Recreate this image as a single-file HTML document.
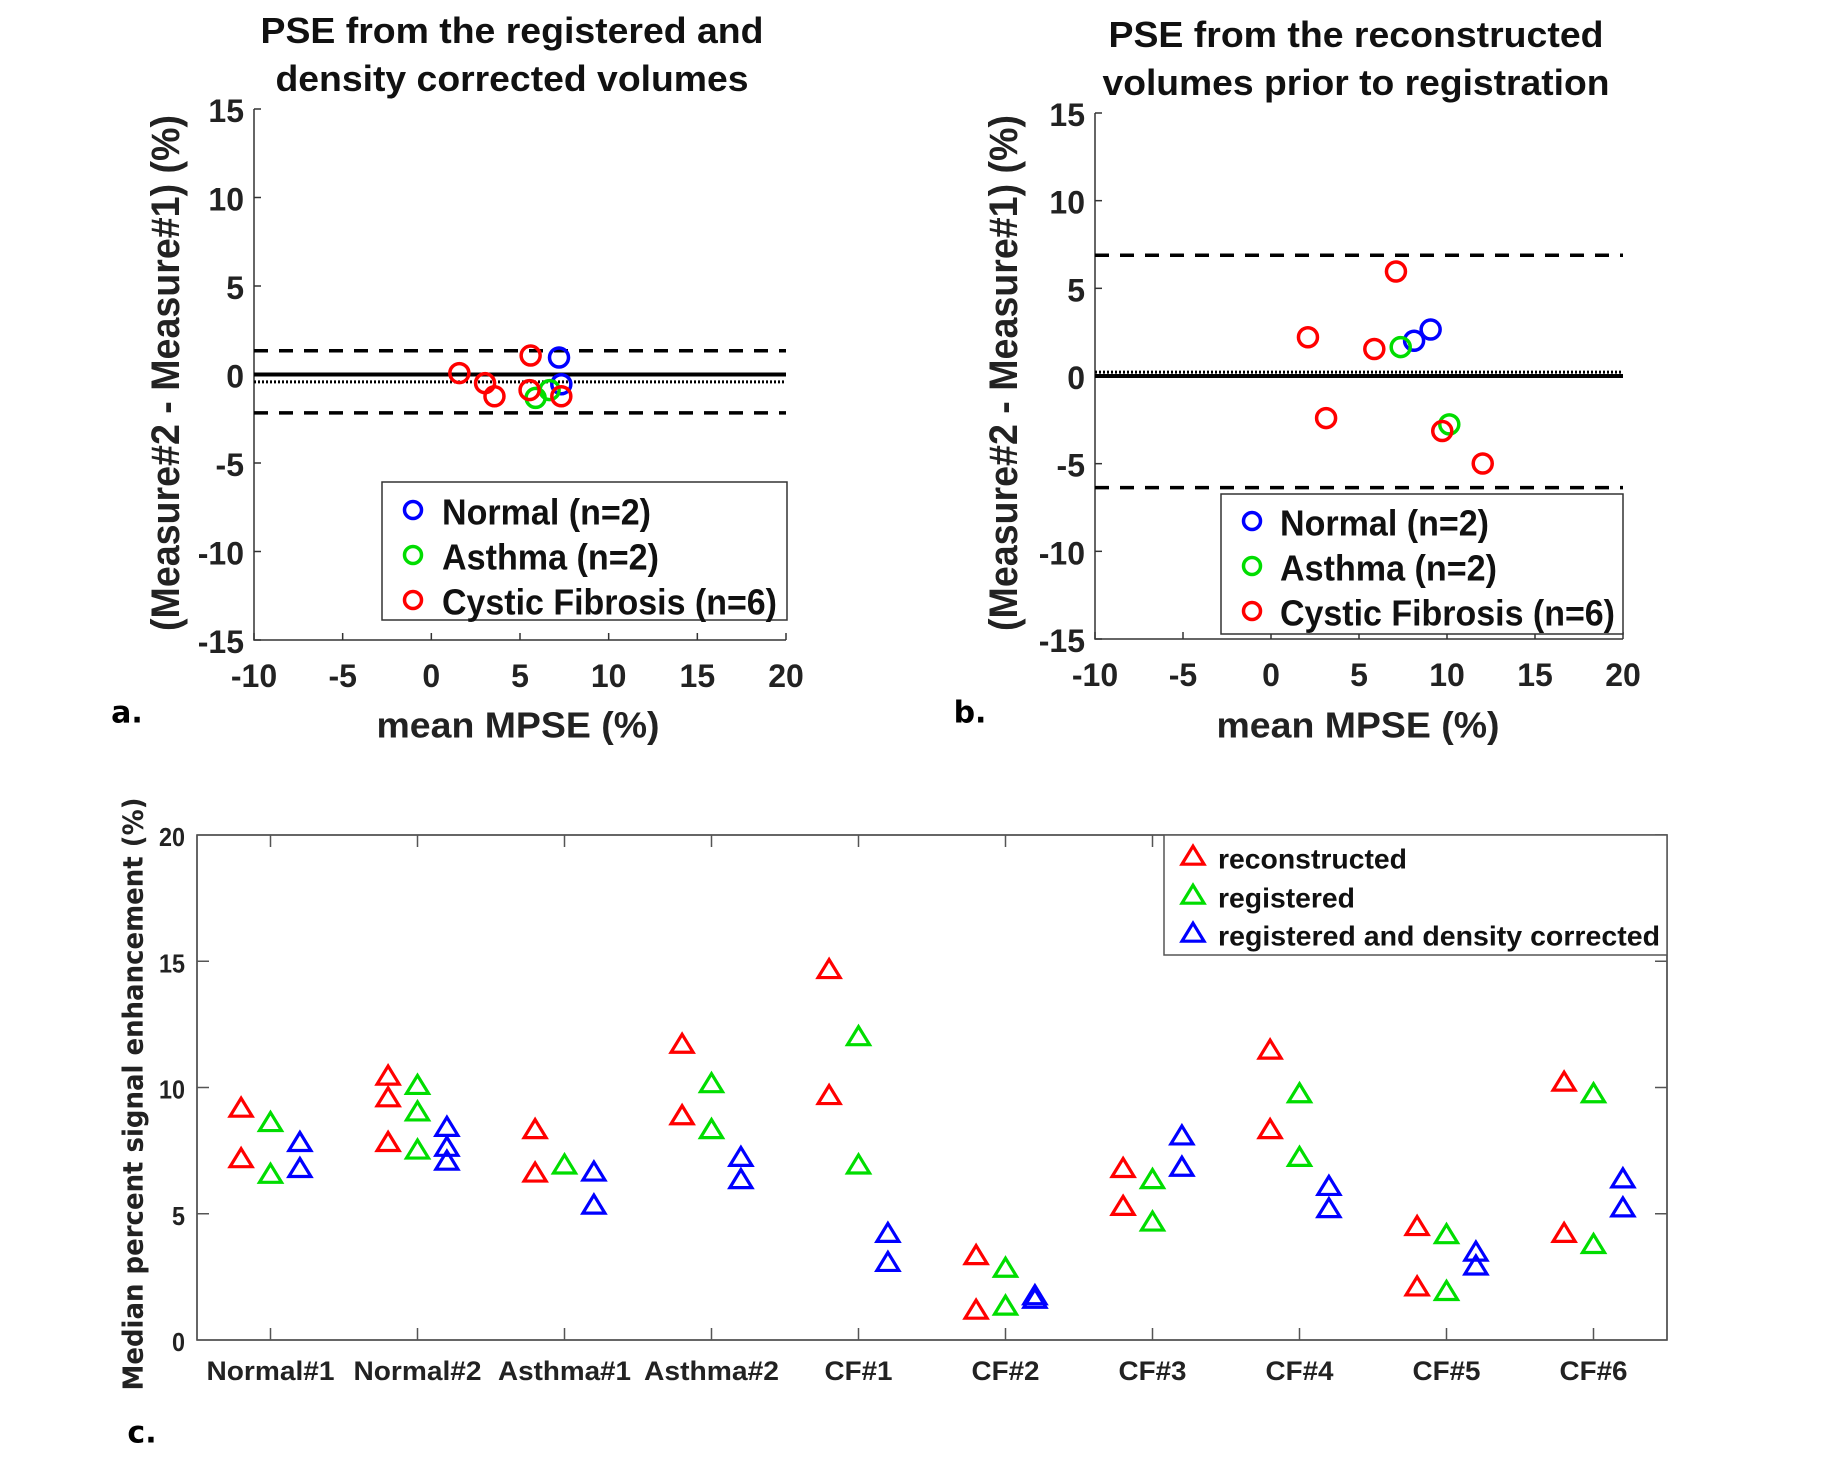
<!DOCTYPE html>
<html><head><meta charset="utf-8"><style>
html,body{margin:0;padding:0;background:#fff;}
svg{display:block;font-family:"Liberation Sans",Arial,sans-serif;font-weight:bold;}
</style></head><body>
<svg id="fig" xmlns="http://www.w3.org/2000/svg" width="1840" height="1480" viewBox="0 0 1840 1480"></svg>
<script>
// ---------- Panel a data ----------
const aNormalX=[7.2,7.33], aNormalY=[0.96,-0.55];
const aAsthmaX=[5.88,6.67], aAsthmaY=[-1.32,-0.88];
const aCFX=[1.58,3.03,3.56,5.6,5.54,7.33], aCFY=[0.08,-0.49,-1.23,1.07,-0.88,-1.23];
const aLimits=[1.34,-2.17], aMeanDiff=-0.42;
// ---------- Panel b data ----------
const bNormalX=[8.13,9.07], bNormalY=[2.01,2.65];
const bAsthmaX=[7.37,10.13], bAsthmaY=[1.65,-2.76];
const bCFX=[2.1,3.13,5.87,7.1,9.73,12.03], bCFY=[2.21,-2.4,1.54,5.96,-3.14,-4.99];
const bLimits=[6.89,-6.37], bMeanDiff=0.22;
const abXTicks=[-10,-5,0,5,10,15,20];
const abYTicks=[15,10,5,0,-5,-10,-15];
// ---------- Panel c data ----------
const cCategories=["Normal#1","Normal#2","Asthma#1","Asthma#2","CF#1","CF#2","CF#3","CF#4","CF#5","CF#6"];
const cReconstructed=[[9.15,7.15],[10.42,9.56,7.79],[8.3,6.58],[11.68,8.85],[14.64,9.65],[3.31,1.15],[6.76,5.26],[11.45,8.3],[4.46,2.07],[10.18,4.19]];
const cRegistered=[[8.58,6.53],[10.05,9.0,7.49],[6.9],[10.12,8.3],[11.98,6.9],[2.81,1.31],[6.32,4.64],[9.72,7.2],[4.14,1.89],[9.72,3.75]];
const cCorrected=[[7.79,6.76],[8.39,7.6,7.05],[6.62,5.31],[7.2,6.32],[4.19,3.04],[1.72,1.58],[8.05,6.81],[6.05,5.17],[3.45,2.9],[6.35,5.2]];
const cYTicks=[0,5,10,15,20];

const NS="http://www.w3.org/2000/svg";
const svg=document.getElementById('fig');
function mk(tag,attrs,parent){const e=document.createElementNS(NS,tag);for(const k in attrs)e.setAttribute(k,attrs[k]);(parent||svg).appendChild(e);return e;}
function txt(s,x,y,size,opts,parent){opts=opts||{};const a={x:x,y:y,'font-size':size,fill:opts.fill||'#222','text-anchor':opts.anchor||'middle','dominant-baseline':opts.base||'central'};
 if(opts.len){a.textLength=opts.len;a.lengthAdjust='spacingAndGlyphs';}
 if(opts.transform)a.transform=opts.transform;
 if(opts.family)a['font-family']=opts.family;
 const t=mk('text',a,parent);t.textContent=s;return t;}

const COLORS={normal:'#0000ff',asthma:'#00dd00',cf:'#ff0000'};

function baPanel(id,L,R,T,B,series,lim,md,titles,legend,labelX,ylabX,panelLabel){
  const g=mk('g',{});
  
  
  const sx=v=>L+(v+10)/30*(R-L), sy=v=>B-(v+15)/30*(B-T);
  titles.forEach((t,i)=>{const e=txt(t.s,t.x,t.y,36,{len:t.len,fill:'#111',base:'alphabetic'},g);
    
    });
  const ax=mk('path',{d:`M${L},${T}V${B}H${R}`,stroke:'#333',fill:'none','stroke-width':1.5},g);
  
  
  abXTicks.forEach(v=>{mk('line',{x1:sx(v),x2:sx(v),y1:B,y2:B-7,stroke:'#333','stroke-width':1.5},g);
    const e=txt(String(v),sx(v),B+36,32,{},g);
    
    });
  abYTicks.forEach(v=>{mk('line',{x1:L,x2:L+7,y1:sy(v),y2:sy(v),stroke:'#333','stroke-width':1.5},g);
    const e=txt(String(v),L-10,sy(v)+2,32,{anchor:'end'},g);
    
    });
  const z=mk('line',{x1:L,x2:R,y1:sy(0),y2:sy(0),stroke:'#000','stroke-width':4},g);
  
  
  const m=mk('line',{x1:L,x2:R,y1:sy(md),y2:sy(md),stroke:'#000','stroke-width':3,'stroke-dasharray':'2 2'},g);
  
  
  lim.forEach((v,i)=>{const d=mk('line',{x1:L,x2:R,y1:sy(v),y2:sy(v),stroke:'#000','stroke-width':3.5,'stroke-dasharray':'14 11'},g);
    
    });
  series.forEach(([X,Y,k])=>X.forEach((xv,i)=>{const c=mk('circle',{cx:sx(xv),cy:sy(Y[i]),r:9.5,fill:'none',stroke:COLORS[k],'stroke-width':3.5},g);
    
    }));
  const lb=mk('rect',{x:legend.x,y:legend.y,width:legend.w,height:legend.h,fill:'#fff',stroke:'#333','stroke-width':1.5},g);
  
  
  legend.rows.forEach(r=>{const c=mk('circle',{cx:legend.mx,cy:r.y,r:8.5,fill:'none',stroke:COLORS[r.k],'stroke-width':3.5},g);
    
    
    const e=txt(r.s,legend.tx,r.y+2,36,{anchor:'start',len:r.len,fill:'#111'},g);
    
    });
  const xl=txt('mean MPSE (%)',labelX,725,36,{len:283},g);
  
  
  const yl=txt('(Measure#2 - Measure#1) (%)',0,0,40,{len:516,transform:`translate(${ylabX},373) rotate(-90)`},g);
  
  
  const pl=txt(panelLabel.s,panelLabel.x,panelLabel.y,30,{fill:'#000',family:'"DejaVu Sans","Liberation Sans",sans-serif'},g);
  
  
}
baPanel('panel-a',254,786,109,640,[[aNormalX,aNormalY,'normal'],[aAsthmaX,aAsthmaY,'asthma'],[aCFX,aCFY,'cf']],aLimits,aMeanDiff,
 [{s:'PSE from the registered and',x:512,y:43,len:503},{s:'density corrected volumes',x:512,y:91,len:473}],
 {x:382,y:482,w:405,h:138,mx:413,tx:442,rows:[{s:'Normal (n=2)',k:'normal',y:510,len:209},{s:'Asthma (n=2)',k:'asthma',y:555,len:217},{s:'Cystic Fibrosis (n=6)',k:'cf',y:600,len:335}]},
 518,166,{s:'a.',x:127,y:713});
baPanel('panel-b',1095,1623,113,639,[[bNormalX,bNormalY,'normal'],[bAsthmaX,bAsthmaY,'asthma'],[bCFX,bCFY,'cf']],bLimits,bMeanDiff,
 [{s:'PSE from the reconstructed',x:1356,y:47,len:495},{s:'volumes prior to registration',x:1356,y:95,len:507}],
 {x:1221,y:494,w:402,h:140,mx:1252,tx:1280,rows:[{s:'Normal (n=2)',k:'normal',y:521,len:209},{s:'Asthma (n=2)',k:'asthma',y:566,len:217},{s:'Cystic Fibrosis (n=6)',k:'cf',y:611,len:335}]},
 1358,1004,{s:'b.',x:970,y:713});

// ---------- Panel c ----------
(function(){
  const L=197,R=1667,T=835,B=1340;
  const g=mk('g',{});
  
  
  const sx=v=>L+(v-0.5)/10*(R-L), sy=v=>B-v/20*(B-T);
  const box=mk('rect',{x:L,y:T,width:R-L,height:B-T,fill:'none',stroke:'#333','stroke-width':1.5},g);
  
  
  const catLens=[128,128,133,135,68,68,68,68,68,68];
  cCategories.forEach((c,i)=>{const x=sx(i+1);
    mk('line',{x1:x,x2:x,y1:B,y2:B-12,stroke:'#555','stroke-width':1.5},g);
    mk('line',{x1:x,x2:x,y1:T,y2:T+12,stroke:'#555','stroke-width':1.5},g);
    const e=txt(c,x,1371,27,{len:catLens[i]},g);
    
    });
  cYTicks.forEach(v=>{const y=sy(v);
    mk('line',{x1:L,x2:L+12,y1:y,y2:y,stroke:'#555','stroke-width':1.5},g);
    mk('line',{x1:R,x2:R-12,y1:y,y2:y,stroke:'#555','stroke-width':1.5},g);
    const e=txt(String(v),185,y+2,26,{anchor:'end',len:String(v).length*13},g);
    
    });
  function tri(x,y,col,parent){const h=18,w=22;
    return mk('path',{d:`M${x},${y-h*0.6}L${x+w/2},${y+h*0.4}L${x-w/2},${y+h*0.4}Z`,fill:'none',stroke:col,'stroke-width':3.2},parent);}
  const sets=[[cReconstructed,-0.2,'#ff0000','reconstructed'],[cRegistered,0,'#00dd00','registered'],[cCorrected,0.2,'#0000ff','corrected']];
  sets.forEach(([data,off,col,nm])=>data.forEach((vals,i)=>vals.forEach(v=>{
    const t=tri(sx(i+1+off),sy(v),col,g);
    
    })));
  const lb=mk('rect',{x:1164,y:835,width:503,height:120,fill:'#fff',stroke:'#555','stroke-width':1.5},g);
  
  
  [['reconstructed','#ff0000',857,189],['registered','#00dd00',896,137],['registered and density corrected','#0000ff',934,442]].forEach(r=>{
    const m=tri(1193,r[2],r[1],g);
    
    
    const e=txt(r[0],1218,r[2]+2,28,{anchor:'start',len:r[3],fill:'#111'},g);
    
    });
  const yl=txt('Median percent signal enhancement (%)',0,0,28,{len:593,transform:'translate(133,1094) rotate(-90)',family:'"DejaVu Sans","Liberation Sans",sans-serif'},g);
  
  
  const pl=txt('c.',142,1433,30,{fill:'#000',family:'"DejaVu Sans","Liberation Sans",sans-serif'},g);
  
  
})();
</script>
</body></html>
